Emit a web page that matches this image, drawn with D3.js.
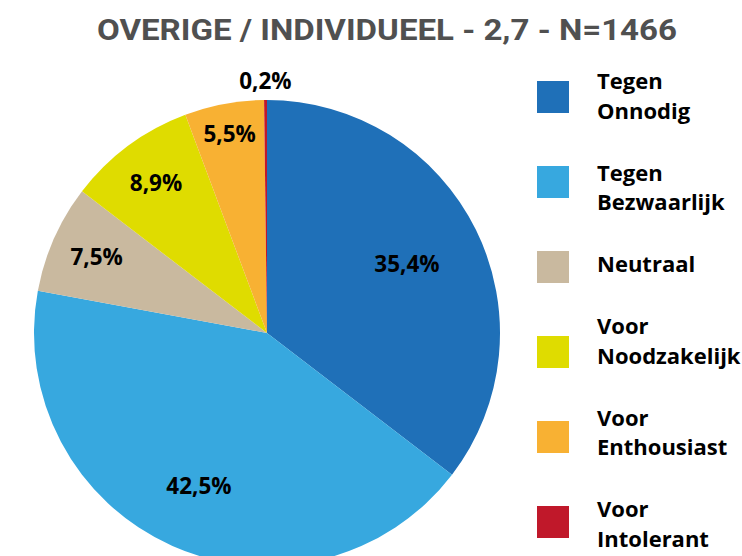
<!DOCTYPE html>
<html>
<head>
<meta charset="utf-8">
<script src="https://cdn.jsdelivr.net/npm/d3@7"></script>
<style>
  html, body { margin: 0; padding: 0; background: #fff; }
  svg { display: block; }
</style>
</head>
<body>
<svg id="chart"></svg>
<script>
const categories = [
  "Tegen Onnodig",
  "Tegen Bezwaarlijk",
  "Neutraal",
  "Voor Noodzakelijk",
  "Voor Enthousiast",
  "Voor Intolerant"
];
const values = [35.4, 42.5, 7.5, 8.9, 5.5, 0.2];
const colors = ["#1f70b8", "#37a8df", "#c9b99f", "#dfdc00", "#f8b133", "#c0182a"];
const legendLines = [
  ["Tegen", "Onnodig"],
  ["Tegen", "Bezwaarlijk"],
  ["Neutraal"],
  ["Voor", "Noodzakelijk"],
  ["Voor", "Enthousiast"],
  ["Voor", "Intolerant"]
];
const title = "OVERIGE / INDIVIDUEEL - 2,7 - N=1466";

const width = 742;
const height = 556;
const cx = 267, cy = 333, radius = 233;
// label distance from centre, as fraction of radius (best-fit placement)
const labelPos = [0.67, 0.72, 0.80, 0.80, 0.87, 1.08];

const svg = d3.select("#chart").attr("width", width).attr("height", height);

svg.append("text")
  .attr("x", 387)
  .attr("y", 40)
  .attr("text-anchor", "middle")
  .attr("font-family", "Roboto, sans-serif")
  .attr("font-weight", 700)
  .attr("font-size", 30)
  .attr("fill", "#505050")
  .attr("textLength", 580)
  .attr("lengthAdjust", "spacingAndGlyphs")
  .text(title);

const pie = d3.pie().sort(null).value((d) => d);
const arcs = pie(values);
const arc = d3.arc().innerRadius(0).outerRadius(radius);

const g = svg.append("g").attr("transform", `translate(${cx},${cy})`);

g.selectAll("path")
  .data(arcs)
  .enter()
  .append("path")
  .attr("d", arc)
  .attr("fill", (d, i) => colors[i]);

const fmt = (v) => v.toFixed(1).replace(".", ",") + "%";

g.selectAll("text.lbl")
  .data(arcs)
  .enter()
  .append("text")
  .attr("class", "lbl")
  .attr("transform", (d, i) => {
    const a = (d.startAngle + d.endAngle) / 2;
    const r = radius * labelPos[i];
    return `translate(${Math.sin(a) * r},${-Math.cos(a) * r})`;
  })
  .attr("text-anchor", "middle")
  .attr("dy", "0.36em")
  .attr("font-family", "'Open Sans', sans-serif")
  .attr("font-weight", 700)
  .attr("font-size", 22.5)
  .attr("fill", "#000")
  .text((d) => fmt(d.data));

// legend: swatches evenly spaced, text entries stacked one after another
const legendY = d3.scaleBand()
  .domain(categories)
  .range([81 - 26.5, 506 + 32 + 26.5]);

const legend = svg.append("g");
legend.selectAll("rect")
  .data(categories)
  .enter()
  .append("rect")
  .attr("x", 537)
  .attr("y", (d) => legendY(d) + legendY.bandwidth() / 2 - 16)
  .attr("width", 32)
  .attr("height", 32)
  .attr("fill", (d, i) => colors[i]);

const lineH = 29.5;
const gap = 32.5;
let baseY = 89;
legendLines.forEach((lines) => {
  const t = legend.append("text")
    .attr("font-family", "'Open Sans', sans-serif")
    .attr("font-weight", 700)
    .attr("font-size", 22)
    .attr("fill", "#000");
  lines.forEach((line, k) => {
    t.append("tspan")
      .attr("x", 597)
      .attr("y", baseY + k * lineH)
      .text(line);
  });
  baseY += lines.length * lineH + gap;
});
</script>
</body>
</html>
